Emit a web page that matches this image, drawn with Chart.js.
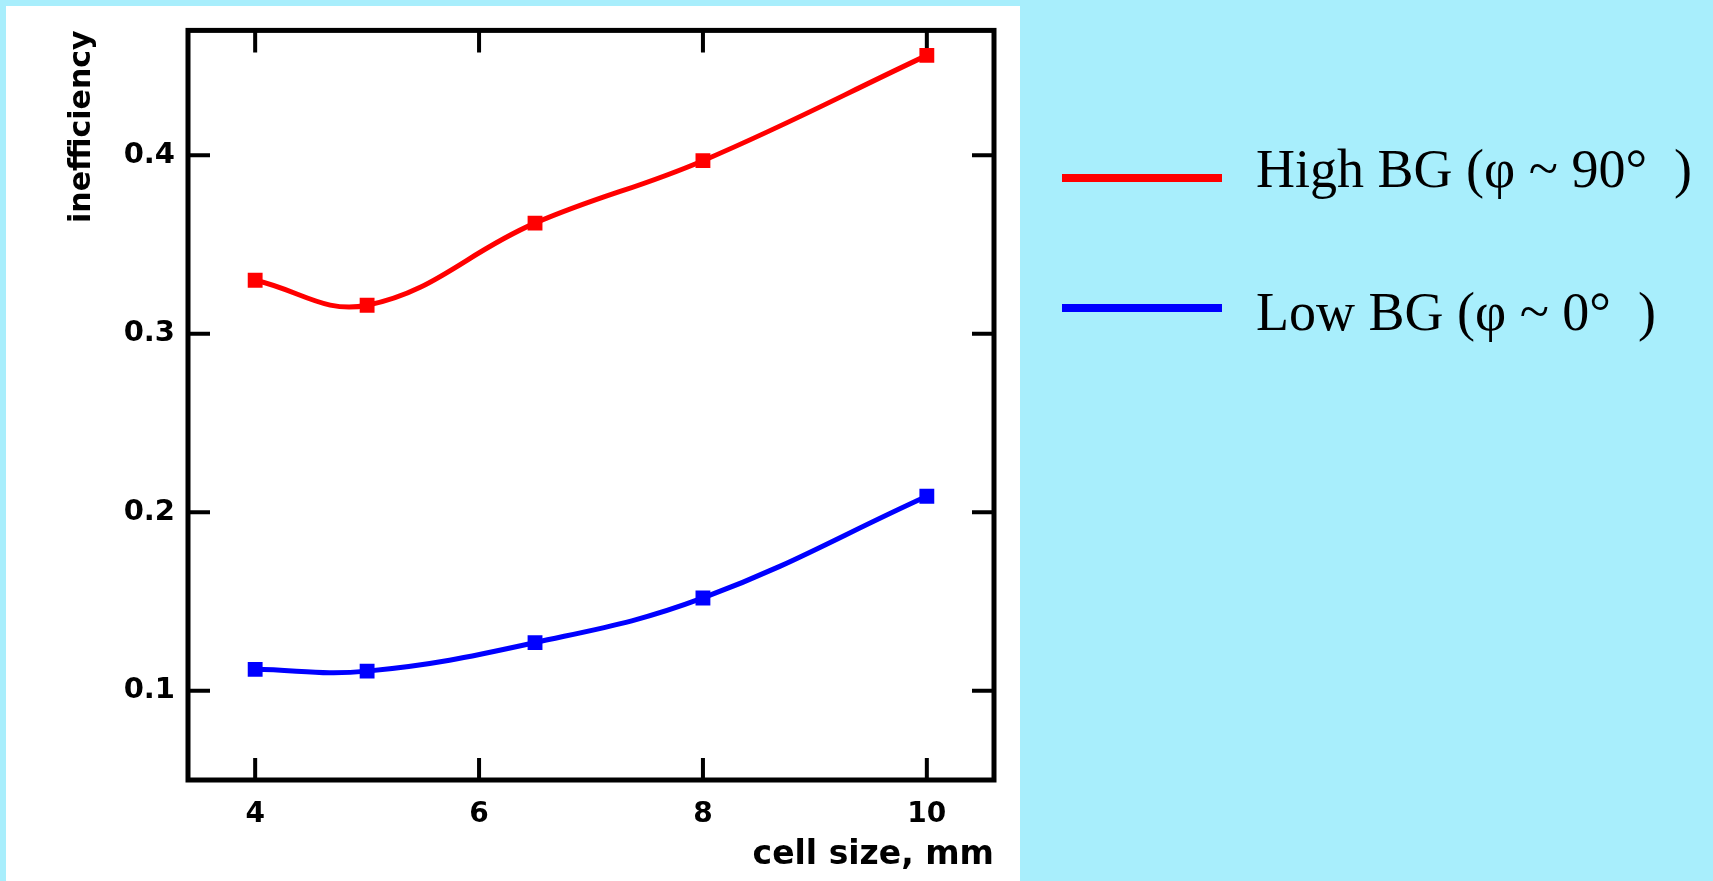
<!DOCTYPE html>
<html>
<head>
<meta charset="utf-8">
<script src="https://cdn.jsdelivr.net/npm/chart.js"></script>
<style>
    html, body { margin: 0; padding: 0; background: #a8eefc; overflow: hidden; }
</style>
</head>
<body>
<canvas id="js--chart--1" width="1713" height="881"></canvas>
<script>
//inefficiency per cell size

const cellSizes = [4, 5, 6.5, 8, 10];
const highBG = [0.330, 0.316, 0.362, 0.397, 0.456];
const lowBG = [0.112, 0.111, 0.127, 0.152, 0.209];

const xTicks = [4, 6, 8, 10];
const yTicks = [0.1, 0.2, 0.3, 0.4];

const labels = ["High BG (φ ~ 90°  )", "Low BG (φ ~ 0°  )"];

function toPoints(ys) {
    return cellSizes.map((x, i) => ({x: x, y: ys[i]}));
}

//white panel, box and inner ticks
const frame = {
    id: "frame",
    beforeDraw(chart) {
        const ctx = chart.ctx;
        ctx.save();
        ctx.fillStyle = "#ffffff";
        ctx.fillRect(6, 6, 1014, 875);
        ctx.restore();
    },
    beforeDatasetsDraw(chart) {
        const {ctx, chartArea: a, scales: {x, y}} = chart;
        ctx.save();
        ctx.strokeStyle = "#000000";
        ctx.lineWidth = 5;
        ctx.strokeRect(a.left, a.top, a.right - a.left, a.bottom - a.top);
        ctx.lineWidth = 4;
        ctx.beginPath();
        x.ticks.forEach(t => {
            const px = x.getPixelForValue(t.value);
            ctx.moveTo(px, a.bottom); ctx.lineTo(px, a.bottom - 22);
            ctx.moveTo(px, a.top); ctx.lineTo(px, a.top + 22);
        });
        y.ticks.forEach(t => {
            const py = y.getPixelForValue(t.value);
            ctx.moveTo(a.left, py); ctx.lineTo(a.left + 22, py);
            ctx.moveTo(a.right, py); ctx.lineTo(a.right - 22, py);
        });
        ctx.stroke();
        ctx.restore();
    }
};

//legend on the blue side
const sideLegend = {
    id: "sideLegend",
    afterDraw(chart, args, opts) {
        const ctx = chart.ctx;
        chart.data.datasets.forEach((ds, i) => {
            ctx.save();
            ctx.strokeStyle = ds.borderColor;
            ctx.lineWidth = 8;
            ctx.beginPath();
            ctx.moveTo(opts.x1, opts.lineY[i]);
            ctx.lineTo(opts.x2, opts.lineY[i]);
            ctx.stroke();
            ctx.fillStyle = "#000000";
            ctx.font = '54px "Liberation Serif"';
            ctx.textBaseline = "alphabetic";
            ctx.fillText(ds.label, opts.textX, opts.textY[i]);
            ctx.restore();
        });
    }
};

const data = {
    datasets: [{
        label: labels[0],
        data: toPoints(highBG),
        borderColor: "#ff0000",
        backgroundColor: "#ff0000",
    }, {
        label: labels[1],
        data: toPoints(lowBG),
        borderColor: "#0000ff",
        backgroundColor: "#0000ff",
    }]
};

const config = {
    type: "line",
    data: data,
    options: {
        responsive: false,
        animation: false,
        layout: { padding: { top: 27, right: 719, bottom: 0, left: 0 } },
        elements: {
            line: { borderWidth: 5, tension: 0.4 },
            point: { pointStyle: "rect", radius: 10.5, borderWidth: 0 }
        },
        plugins: {
            legend: { display: false },
            tooltip: { enabled: false },
            sideLegend: { x1: 1062, x2: 1222, lineY: [178, 308], textX: 1256, textY: [187, 330] }
        },
        scales: {
            x: {
                type: "linear",
                min: 3.4,
                max: 10.6,
                afterBuildTicks: s => { s.ticks = xTicks.map(v => ({value: v})); },
                afterFit: s => { s.height = 101; },
                grid: { display: false, drawTicks: false },
                border: { display: false },
                ticks: {
                    color: "#000000",
                    padding: 18,
                    font: { family: "DejaVu Sans", weight: "bold", size: 28 }
                },
                title: {
                    display: true,
                    text: "cell size, mm",
                    align: "end",
                    color: "#000000",
                    padding: { bottom: 6 },
                    font: { family: "DejaVu Sans", weight: "bold", size: 33 }
                }
            },
            y: {
                min: 0.05,
                max: 0.47,
                afterBuildTicks: s => { s.ticks = yTicks.map(v => ({value: v})); },
                afterFit: s => { s.width = 188; },
                grid: { display: false, drawTicks: false },
                border: { display: false },
                ticks: {
                    color: "#000000",
                    padding: 13,
                    font: { family: "DejaVu Sans", weight: "bold", size: 29 }
                },
                title: {
                    display: true,
                    text: "inefficiency",
                    align: "end",
                    color: "#000000",
                    padding: { top: 64 },
                    font: { family: "DejaVu Sans", weight: "bold", size: 30 }
                }
            }
        }
    },
    plugins: [frame, sideLegend]
};

const chart1 = new Chart(document.getElementById("js--chart--1"), config);
</script>
</body>
</html>
